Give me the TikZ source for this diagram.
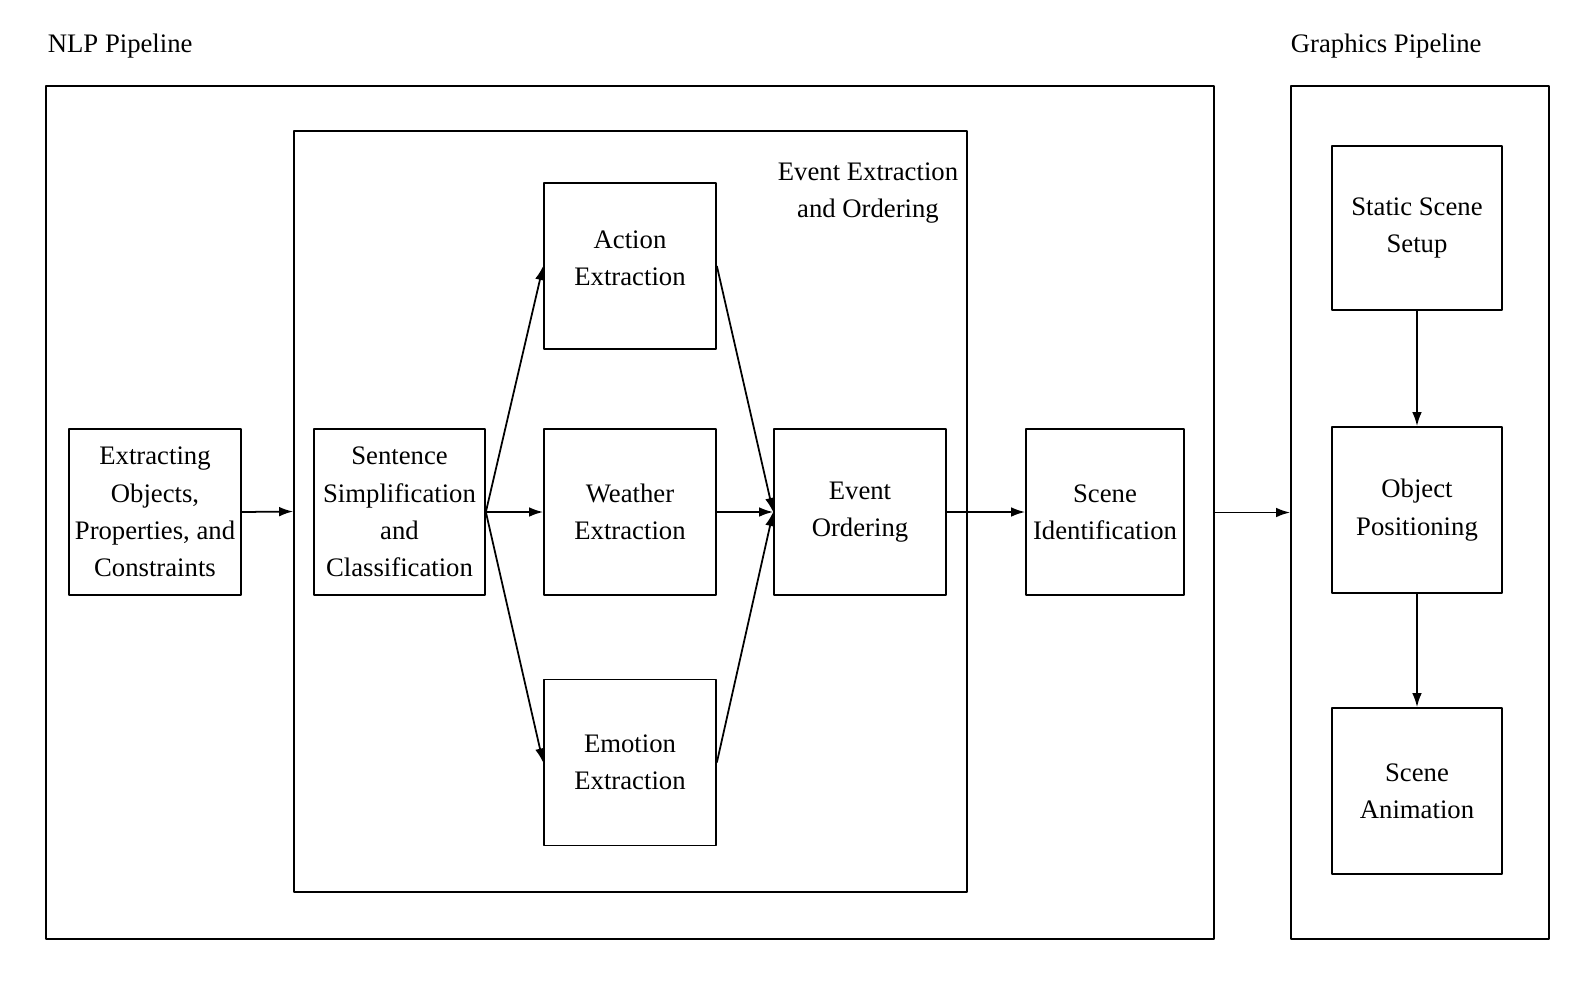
\documentclass[tikz,border=0pt]{standalone}
\usepackage{fontspec}
\setmainfont{Liberation Serif}
\usetikzlibrary{arrows.meta}
\begin{document}
\begin{tikzpicture}[x=0.02cm,y=-0.02cm,>={Latex[length=8pt,width=5.5pt]}, line width=1pt, line join=round,
  font=\fontsize{15.2}{21.2}\selectfont,
  box/.style={draw,align=center,minimum width=3.44cm,minimum height=3.32cm,inner sep=1pt},
  frame/.style={draw,inner sep=0pt}]
\useasboundingbox (0,0) rectangle (1580,988);
% outer frames
\node[frame,minimum width=23.36cm,minimum height=17.06cm] (nlp) at (630,512.5) {};
\node[frame,minimum width=5.16cm,minimum height=17.06cm] (gfx) at (1420,512.5) {};
\node[frame,minimum width=13.46cm,minimum height=15.22cm] (evt) at (630.5,511.5) {};
\node[anchor=west,inner sep=0pt] (nlplbl) at (47,46) {NLP Pipeline};
\node[anchor=west,inner sep=0pt] (gfxlbl) at (1290,46) {Graphics Pipeline};
\node[align=center,inner sep=0pt] (evtlbl) at (868,193) {Event Extraction\\and Ordering};
% NLP steps
\node[box] (ext) at (155,512) {Extracting\\Objects,\\Properties, and\\Constraints};
\node[box,minimum width=3.42cm] (sen) at (399.5,512) {Sentence\\Simplification\\and\\Classification};
\node[box] (act) at (630,266) {Action\\Extraction\\[-12pt]};
\node[box] (wea) at (630,512) {Weather\\Extraction};
\node[box] (emo) at (630,762.5) {Emotion\\Extraction};
\node[box] (ord) at (860,512) {Event\\Ordering};
\node[box,minimum width=3.16cm] (scn) at (1105,512) {Scene\\Identification};
% graphics steps
\node[box,minimum width=3.4cm,minimum height=3.28cm] (sta) at (1417,228) {Static Scene\\Setup};
\node[box,minimum width=3.4cm] (pos) at (1417,510) {Object\\Positioning};
\node[box,minimum width=3.4cm] (ani) at (1417,791) {Scene\\Animation};
% arrows
\draw[->] (ext.east)--(evt.west);
\foreach \t in {act,wea,emo}{
  \draw[->] (sen.east)--(\t.west);
  \draw[->] (\t.east)--(ord.west);
}
\draw[->] (ord.east)--(scn.west);
\draw[->] (nlp.east)--(gfx.west);
\draw[->] (sta)--(pos);
\draw[->] (pos)--(ani);
\end{tikzpicture}
\end{document}
